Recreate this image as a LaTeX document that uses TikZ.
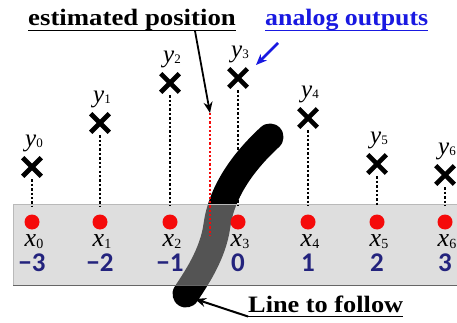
\documentclass[tikz,border=0pt]{standalone}
\usepackage{fontspec}
\setmainfont{Liberation Serif}
\newfontfamily\numfont{Carlito}
\usetikzlibrary{arrows.meta,shapes.misc}
\definecolor{navy}{RGB}{35,35,125}
\definecolor{lblue}{RGB}{25,25,225}
\definecolor{dotred}{RGB}{245,10,10}
\definecolor{bandgray}{RGB}{184,184,184}
\tikzset{
  xmark/.style={draw, cross out, minimum size=14pt, inner sep=0pt, line width=4.6pt},
  rdot/.style={circle, fill=dotred, minimum size=15pt, inner sep=0pt},
  vdot/.style={line width=2.2pt, dash pattern=on 2.4pt off 2pt},
  reddash/.style={line width=1.8pt, dotred, dash pattern=on 2.2pt off 2pt},
  title/.style={inner sep=0pt, font=\fontsize{23.5}{25}\selectfont\bfseries},
  ylab/.style={inner sep=0pt, font=\fontsize{25}{25}\selectfont},
  xlab/.style={inner sep=0pt, font=\fontsize{26}{26}\selectfont},
  numlab/.style={inner sep=0pt, font=\fontsize{27}{27}\selectfont\numfont\bfseries, text=navy},
  arr/.style={line width=1.8pt, -{Stealth[length=11pt,width=9pt]}},
}
\begin{document}
\begin{tikzpicture}[x=1pt,y=-1pt]
\useasboundingbox (0,0) rectangle (457,323);
\fill[white] (0,0) rectangle (457,323);
% line to follow (brush stroke)
\draw[line width=27pt, line cap=round] (270,137) .. controls (245,160) and (222,190) .. (217,225) .. controls (213,255) and (195,280) .. (186,294);
% band
\fill[bandgray, fill opacity=0.46] (13,204) rectangle (460,285);
\draw[gray!55, line width=0.8pt] (13,285) -- (13,204) -- (460,204);
\draw[gray!80!black, line width=1.4pt] (13,285.5) -- (460,285.5);
\coordinate (bandtop) at (0,206);
% samples
\foreach \i/\x/\cy/\n in {0/32/167/{−3},1/100/123/{−2},2/170/83/{−1},3/238/78/0,4/308/118/1,5/377/164/2,6/445/175/3}{
  \node[xmark] (c\i) at (\x,\cy) {};
  \node[ylab] (yl\i) at (\x+2,\cy-24) {\textit{y}\raisebox{-1pt}{\fontsize{13}{13}\selectfont\i}};
  \draw[vdot] ([yshift=-3pt]c\i.south) -- (c\i.south |- bandtop);
  \node[rdot] (d\i) at (\x,222) {};
  \node[xlab] (xl\i) at (\x+2,242) {\textit{x}\raisebox{-2pt}{\fontsize{14}{14}\selectfont\i}};
  \node[numlab] (n\i) at (\x,263) {\n};
}
% estimated position
\node[title, anchor=base west] (est) at (28,26) {\scalebox{1.14}[1]{estimated position}};
\draw[line width=1.1pt] ([yshift=-4.5pt]est.base west) -- ([yshift=-4.5pt]est.base east);
\coordinate (estTail) at (195,31);
\coordinate (estTip) at (210,113);
\coordinate (redEnd) at (210,236);
\draw[reddash] (estTip) -- (redEnd);
\draw[arr] (estTail) -- (estTip);
% analog outputs
\node[title, anchor=base west, text=lblue] (ana) at (265,26) {\scalebox{1.1}[1]{analog outputs}};
\draw[lblue, line width=1.1pt] ([yshift=-4.5pt]ana.base west) -- ([yshift=-4.5pt]ana.base east);
\coordinate (anaTail) at (278,43);
\coordinate (anaTip) at (256,65);
\draw[arr, lblue, line width=2.6pt] (anaTail) -- (anaTip);
% line to follow
\node[title, anchor=base west] (ltf) at (248,312) {\scalebox{1.12}[1]{Line to follow}};
\draw[line width=1.1pt] ([yshift=-4.5pt]ltf.base west) -- ([yshift=-4.5pt]ltf.base east);
\coordinate (ltfTail) at (248,316.5);
\coordinate (ltfTip) at (195,299);
\draw[arr, line width=2pt] (ltfTail) -- (ltfTip);
\end{tikzpicture}
\end{document}
